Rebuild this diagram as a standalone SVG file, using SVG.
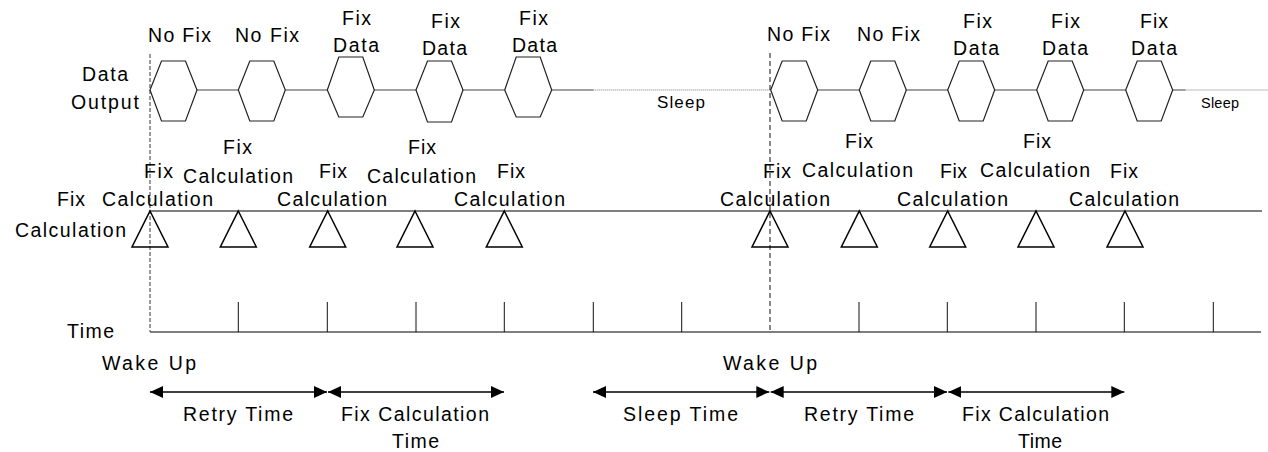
<svg xmlns="http://www.w3.org/2000/svg" width="1268" height="452" viewBox="0 0 1268 452">
<style>
text{font-family:"Liberation Sans",Arial,sans-serif;font-size:19.5px;fill:#000}
.s1{font-size:17px}
.s2{font-size:14.5px}
.hex{fill:none;stroke:#222;stroke-width:1.2}
.tri{fill:none;stroke:#000;stroke-width:1.5}
.wire{stroke:#444;stroke-width:1.2;fill:none}
.dot{stroke:#777;stroke-width:1;stroke-dasharray:1 1;fill:none}
.axis{stroke:#555;stroke-width:1.6;fill:none}
.tick{stroke:#111;stroke-width:1;fill:none}
.arr{stroke:#000;stroke-width:1.6;fill:none;marker-start:url(#ah);marker-end:url(#ah)}
</style>
<defs>
<marker id="ah" markerUnits="userSpaceOnUse" markerWidth="14" markerHeight="13" refX="13" refY="6" orient="auto-start-reverse" viewBox="0 0 14 12">
<path d="M0,0 L13,6 L0,12 Z" fill="#000"/>
</marker>
</defs>

<g id="row-labels">
<text x="82" y="81" textLength="46">Data</text>
<text x="71" y="109" textLength="68">Output</text>
<text x="57" y="206" textLength="28">Fix</text>
<text x="15" y="237" textLength="111">Calculation</text>
<text x="67" y="338" textLength="47">Time</text>
</g>

<g id="connectors">
<line class="dot" x1="593.3" y1="90" x2="770.7" y2="90"/>
<line class="dot" x1="1185.5" y1="90" x2="1268" y2="90"/>
<path class="wire" d="M197,90H238.3M285.3,90H327.3M374.3,90H416M463,90H504.7M551.7,90H593.3"/>
<path class="wire" d="M817.7,90H859.3M906.3,90H947.7M994.7,90H1036.7M1083.7,90H1125.7M1172.7,90H1185.5"/>
<line class="axis" x1="150" y1="211" x2="1262" y2="211"/>
<line class="axis" x1="150" y1="332" x2="1261" y2="332"/>
<path class="tick" d="M238.3,302V332M327.3,302V332M416,302V332M504.3,302V332M593.3,302V332M681.7,302V332M859,302V332M947.3,302V332M1036,302V332M1124.3,302V332M1213.3,302V332"/>
<line x1="150" y1="54" x2="150" y2="332" stroke="#666" stroke-width="1.3" stroke-dasharray="4 2"/>
<line x1="770" y1="53" x2="770" y2="332" stroke="#111" stroke-width="1" stroke-dasharray="5 3"/>
<line class="arr" x1="150" y1="392" x2="327" y2="392"/>
<line class="arr" x1="328" y1="392" x2="504" y2="392"/>
<line class="arr" x1="593" y1="392" x2="769.3" y2="392"/>
<line class="arr" x1="770.7" y1="392" x2="947" y2="392"/>
<line class="arr" x1="948.3" y1="392" x2="1124.3" y2="392"/>
</g>

<g id="hex1"><path class="hex" d="M150,90L161.5,61L185.5,61L197,90L185.5,121L161.5,121Z"/><text x="148" y="42" textLength="63">No Fix</text></g>
<g id="hex2"><path class="hex" d="M238.3,90L249.8,61L273.8,61L285.3,90L273.8,121L249.8,121Z"/><text x="235" y="42" textLength="64">No Fix</text></g>
<g id="hex3"><path class="hex" d="M327.3,90L338.8,57L362.8,57L374.3,90L362.8,117L338.8,117Z"/><text x="342" y="25" textLength="29">Fix</text><text x="333" y="52" textLength="46">Data</text></g>
<g id="hex4"><path class="hex" d="M416,90L427.5,61L451.5,61L463,90L451.5,122L427.5,122Z"/><text x="431" y="28" textLength="29">Fix</text><text x="422" y="55" textLength="45">Data</text></g>
<g id="hex5"><path class="hex" d="M504.7,90L516.2,57L540.2,57L551.7,90L540.2,117L516.2,117Z"/><text x="519" y="25" textLength="29">Fix</text><text x="512" y="52" textLength="45">Data</text></g>
<g id="sleep1"><text class="s1" x="657" y="108" textLength="48">Sleep</text></g>

<g id="hex6"><path class="hex" d="M770.7,90L782.2,61L806.2,61L817.7,90L806.2,121L782.2,121Z"/><text x="767" y="41" textLength="63">No Fix</text></g>
<g id="hex7"><path class="hex" d="M859.3,90L870.8,61L894.8,61L906.3,90L894.8,121L870.8,121Z"/><text x="857" y="41" textLength="63">No Fix</text></g>
<g id="hex8"><path class="hex" d="M947.7,90L959.2,61L983.2,61L994.7,90L983.2,121L959.2,121Z"/><text x="963" y="28" textLength="29">Fix</text><text x="953" y="55" textLength="46">Data</text></g>
<g id="hex9"><path class="hex" d="M1036.7,90L1048.2,61L1072.2,61L1083.7,90L1072.2,121L1048.2,121Z"/><text x="1051" y="28" textLength="29">Fix</text><text x="1042" y="55" textLength="46">Data</text></g>
<g id="hex10"><path class="hex" d="M1125.7,90L1137.2,61L1161.2,61L1172.7,90L1161.2,121L1137.2,121Z"/><text x="1140" y="28" textLength="28">Fix</text><text x="1131" y="55" textLength="46">Data</text></g>
<g id="sleep2"><text class="s2" x="1201" y="108" textLength="38">Sleep</text></g>

<g id="tri1"><path class="tri" d="M150,211L168,247L132,247Z"/><text x="144" y="178" textLength="29">Fix</text><text x="102" y="206" textLength="111">Calculation</text></g>
<g id="tri2"><path class="tri" d="M238.3,211L256.3,247L220.3,247Z"/><text x="223" y="154" textLength="29">Fix</text><text x="183" y="183" textLength="110">Calculation</text></g>
<g id="tri3"><path class="tri" d="M327.7,211L345.7,247L309.7,247Z"/><text x="319" y="178" textLength="28">Fix</text><text x="277" y="206" textLength="110">Calculation</text></g>
<g id="tri4"><path class="tri" d="M415,211L433,247L397,247Z"/><text x="408" y="154" textLength="28">Fix</text><text x="367" y="183" textLength="109">Calculation</text></g>
<g id="tri5"><path class="tri" d="M504.3,211L522.3,247L486.3,247Z"/><text x="497" y="178" textLength="28">Fix</text><text x="454" y="206" textLength="111">Calculation</text></g>
<g id="tri6"><path class="tri" d="M770,211L788,247L752,247Z"/><text x="763" y="178" textLength="28">Fix</text><text x="720" y="206" textLength="110">Calculation</text></g>
<g id="tri7"><path class="tri" d="M859.3,211L877.3,247L841.3,247Z"/><text x="845" y="148" textLength="28">Fix</text><text x="802" y="177" textLength="111">Calculation</text></g>
<g id="tri8"><path class="tri" d="M947.7,211L965.7,247L929.7,247Z"/><text x="940" y="178" textLength="27">Fix</text><text x="897" y="206" textLength="111">Calculation</text></g>
<g id="tri9"><path class="tri" d="M1036,211L1054,247L1018,247Z"/><text x="1023" y="148" textLength="28">Fix</text><text x="980" y="177" textLength="110">Calculation</text></g>
<g id="tri10"><path class="tri" d="M1125,211L1143,247L1107,247Z"/><text x="1110" y="178" textLength="28">Fix</text><text x="1069" y="206" textLength="110">Calculation</text></g>

<g id="wake1"><text x="102" y="370" textLength="94">Wake Up</text></g>
<g id="wake2"><text x="723" y="370" textLength="94">Wake Up</text></g>
<g id="retry1"><text x="183" y="421" textLength="110">Retry Time</text></g>
<g id="fixcalc1"><text x="341" y="421" textLength="148">Fix Calculation</text><text x="392" y="448" textLength="47">Time</text></g>
<g id="sleeptime"><text x="623" y="421" textLength="115">Sleep Time</text></g>
<g id="retry2"><text x="804" y="421" textLength="110">Retry Time</text></g>
<g id="fixcalc2"><text x="962" y="421" textLength="147">Fix Calculation</text><text x="1018" y="448" textLength="44">Time</text></g>
</svg>
